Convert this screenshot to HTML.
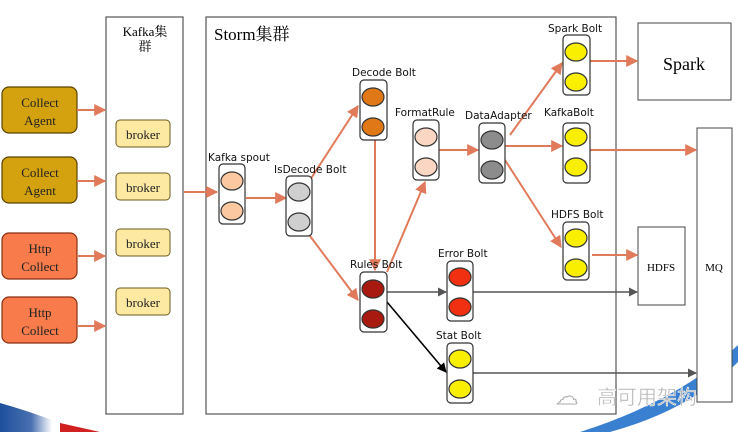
<!DOCTYPE html>
<html><head><meta charset="utf-8"><style>
body{margin:0;width:738px;height:432px;overflow:hidden;background:#fff}
svg{display:block}
.s{font-family:"Liberation Serif","Noto Serif CJK SC",serif}
.l{font-family:"DejaVu Sans","Liberation Sans",sans-serif;font-size:10.5px;fill:#111}
</style></head><body>
<svg width="738" height="432" viewBox="0 0 738 432" xmlns="http://www.w3.org/2000/svg">
<defs>
<marker id="ao" viewBox="0 0 10 10" refX="9" refY="5" markerWidth="6" markerHeight="6" orient="auto"><path d="M0,0L10,5L0,10z" fill="#e07a5a"/></marker>
<marker id="ag" viewBox="0 0 10 10" refX="9" refY="5" markerWidth="6" markerHeight="6" orient="auto"><path d="M0,0L10,5L0,10z" fill="#555"/></marker>
<marker id="ab" viewBox="0 0 10 10" refX="9" refY="5" markerWidth="6" markerHeight="6" orient="auto"><path d="M0,0L10,5L0,10z" fill="#000"/></marker>
<linearGradient id="bl" x1="0" x2="1" y1="0" y2="0"><stop offset="0" stop-color="#1d4f9c"/><stop offset="0.6" stop-color="#4a70b0"/><stop offset="1" stop-color="#fff"/></linearGradient>
</defs>
<!-- decorations -->
<path d="M0,403 Q25,410 52,420 L52,432 L0,432z" fill="url(#bl)"/>
<path d="M60,423 L100,432 L60,432z" fill="#d02020"/>
<path d="M580,432 Q680,400 738,345 L738,362 Q690,410 610,432z" fill="#3a80d0"/>
<!-- containers -->
<rect x="106" y="17" width="77" height="397" fill="#fff" stroke="#555" stroke-width="1.2"/>
<text x="145" y="36" class="s" font-size="13" text-anchor="middle">Kafka集</text>
<text x="145" y="51" class="s" font-size="13" text-anchor="middle">群</text>
<rect x="206" y="17" width="410" height="397" fill="none" stroke="#555" stroke-width="1.2"/>
<text x="214" y="40" class="s" font-size="17">Storm集群</text>
<!-- sources -->
<g stroke="#5a4300" stroke-width="1.2">
<rect x="2" y="87" width="75" height="46" rx="7" fill="#d3a20e"/>
<rect x="2" y="157" width="75" height="46" rx="7" fill="#d3a20e"/>
<rect x="2" y="233" width="75" height="46" rx="7" fill="#f77b4b" stroke="#8a3010"/>
<rect x="2" y="297" width="75" height="46" rx="7" fill="#f77b4b" stroke="#8a3010"/>
</g>
<g class="s" font-size="13" text-anchor="middle" fill="#222">
<text x="40" y="107">Collect</text><text x="40" y="125">Agent</text>
<text x="40" y="177">Collect</text><text x="40" y="195">Agent</text>
<text x="40" y="253">Http</text><text x="40" y="271">Collect</text>
<text x="40" y="317">Http</text><text x="40" y="335">Collect</text>
</g>
<!-- brokers -->
<g stroke="#6a5a20" fill="#fde9a2">
<rect x="116" y="120" width="54" height="27" rx="4"/>
<rect x="116" y="173" width="54" height="27" rx="4"/>
<rect x="116" y="229" width="54" height="27" rx="4"/>
<rect x="116" y="288" width="54" height="27" rx="4"/>
</g>
<g class="s" font-size="13" text-anchor="middle" fill="#222">
<text x="143" y="139">broker</text><text x="143" y="192">broker</text><text x="143" y="248">broker</text><text x="143" y="307">broker</text>
</g>
<!-- right boxes -->
<rect x="638" y="23" width="93" height="77" fill="#fff" stroke="#444"/>
<text x="684" y="70" class="s" font-size="18" text-anchor="middle">Spark</text>
<rect x="638" y="227" width="47" height="78" fill="#fff" stroke="#444"/>
<text x="661" y="271" class="s" font-size="11" text-anchor="middle">HDFS</text>
<rect x="697" y="128" width="35" height="274" fill="#fff" stroke="#444"/>
<text x="714" y="271" class="s" font-size="11" text-anchor="middle">MQ</text>
<!-- arrows -->
<g stroke="#e07a5a" stroke-width="2" fill="none" marker-end="url(#ao)">
<line x1="77" y1="110" x2="105" y2="110"/><line x1="77" y1="181" x2="105" y2="181"/>
<line x1="77" y1="256" x2="105" y2="256"/><line x1="77" y1="326" x2="105" y2="326"/>
<line x1="184" y1="192" x2="217" y2="192"/>
<line x1="246" y1="198" x2="286" y2="198"/>
<line x1="310" y1="180" x2="358" y2="106"/>
<line x1="310" y1="236" x2="358" y2="300"/>
<line x1="375" y1="140" x2="375" y2="270"/>
<line x1="387" y1="272" x2="425" y2="182"/>
<line x1="439" y1="150" x2="478" y2="150"/>
<line x1="510" y1="135" x2="562" y2="63"/>
<line x1="505" y1="146" x2="562" y2="146"/>
<line x1="505" y1="160" x2="561" y2="247"/>
<line x1="590" y1="61" x2="637" y2="61"/>
<line x1="590" y1="150" x2="696" y2="150"/>
<line x1="592" y1="255" x2="637" y2="255"/>
</g>
<g stroke="#555" stroke-width="1.5" fill="none" marker-end="url(#ag)">
<line x1="387" y1="292" x2="446" y2="292"/>
<line x1="473" y1="292" x2="637" y2="292"/>
<line x1="473" y1="373" x2="696" y2="373"/>
</g>
<line x1="387" y1="302" x2="446" y2="372" stroke="#000" stroke-width="1.6" marker-end="url(#ab)"/>
<!-- bolts -->
<g stroke="#333" stroke-width="1.2">
<rect x="219" y="164" width="26" height="60" rx="4" fill="#fff"/>
<ellipse cx="232" cy="181" rx="11" ry="9" fill="#fcc8a2"/><ellipse cx="232" cy="211" rx="11" ry="9" fill="#fcc8a2"/>
<rect x="286" y="176" width="26" height="60" rx="4" fill="#fff"/>
<ellipse cx="299" cy="192" rx="11" ry="9" fill="#cfcfcf"/><ellipse cx="299" cy="222" rx="11" ry="9" fill="#cfcfcf"/>
<rect x="360" y="80" width="27" height="60" rx="4" fill="#fff"/>
<ellipse cx="373" cy="97" rx="11" ry="9" fill="#e07818"/><ellipse cx="373" cy="127" rx="11" ry="9" fill="#e07818"/>
<rect x="360" y="272" width="27" height="60" rx="4" fill="#fff"/>
<ellipse cx="373" cy="289" rx="11" ry="9" fill="#a81a10"/><ellipse cx="373" cy="319" rx="11" ry="9" fill="#a81a10"/>
<rect x="413" y="120" width="26" height="60" rx="4" fill="#fff"/>
<ellipse cx="426" cy="137" rx="11" ry="9" fill="#fbd6c2"/><ellipse cx="426" cy="167" rx="11" ry="9" fill="#fbd6c2"/>
<rect x="479" y="123" width="26" height="60" rx="4" fill="#fff"/>
<ellipse cx="492" cy="140" rx="11" ry="9" fill="#8c8c8c"/><ellipse cx="492" cy="170" rx="11" ry="9" fill="#8c8c8c"/>
<rect x="563" y="35" width="27" height="60" rx="4" fill="#fff"/>
<ellipse cx="576" cy="52" rx="11" ry="9" fill="#f8f000"/><ellipse cx="576" cy="82" rx="11" ry="9" fill="#f8f000"/>
<rect x="563" y="123" width="27" height="60" rx="4" fill="#fff"/>
<ellipse cx="576" cy="137" rx="11" ry="9" fill="#f8f000"/><ellipse cx="576" cy="167" rx="11" ry="9" fill="#f8f000"/>
<rect x="563" y="222" width="26" height="58" rx="4" fill="#fff"/>
<ellipse cx="576" cy="238" rx="11" ry="9" fill="#f8f000"/><ellipse cx="576" cy="268" rx="11" ry="9" fill="#f8f000"/>
<rect x="447" y="261" width="26" height="60" rx="4" fill="#fff"/>
<ellipse cx="460" cy="277" rx="11" ry="9" fill="#f03010"/><ellipse cx="460" cy="307" rx="11" ry="9" fill="#f03010"/>
<rect x="447" y="343" width="26" height="60" rx="4" fill="#fff"/>
<ellipse cx="460" cy="359" rx="11" ry="9" fill="#f8f000"/><ellipse cx="460" cy="389" rx="11" ry="9" fill="#f8f000"/>
</g>
<!-- labels -->
<g class="l">
<text x="208" y="161">Kafka spout</text>
<text x="274" y="173">IsDecode Bolt</text>
<text x="352" y="76">Decode Bolt</text>
<text x="350" y="268">Rules Bolt</text>
<text x="395" y="116">FormatRule</text>
<text x="465" y="119">DataAdapter</text>
<text x="548" y="32">Spark Bolt</text>
<text x="544" y="116">KafkaBolt</text>
<text x="551" y="218">HDFS Bolt</text>
<text x="438" y="257">Error Bolt</text>
<text x="436" y="339">Stat Bolt</text>
</g>
<text x="597" y="404" font-family="'Noto Sans CJK SC',sans-serif" font-size="20" fill="#b0b0b0" stroke="#fff" stroke-width="0.5">高可用架构</text>
<text x="556" y="404" font-family="'DejaVu Sans',sans-serif" font-size="22" fill="none" stroke="#aaa" stroke-width="1">☁</text>
</svg>
</body></html>
